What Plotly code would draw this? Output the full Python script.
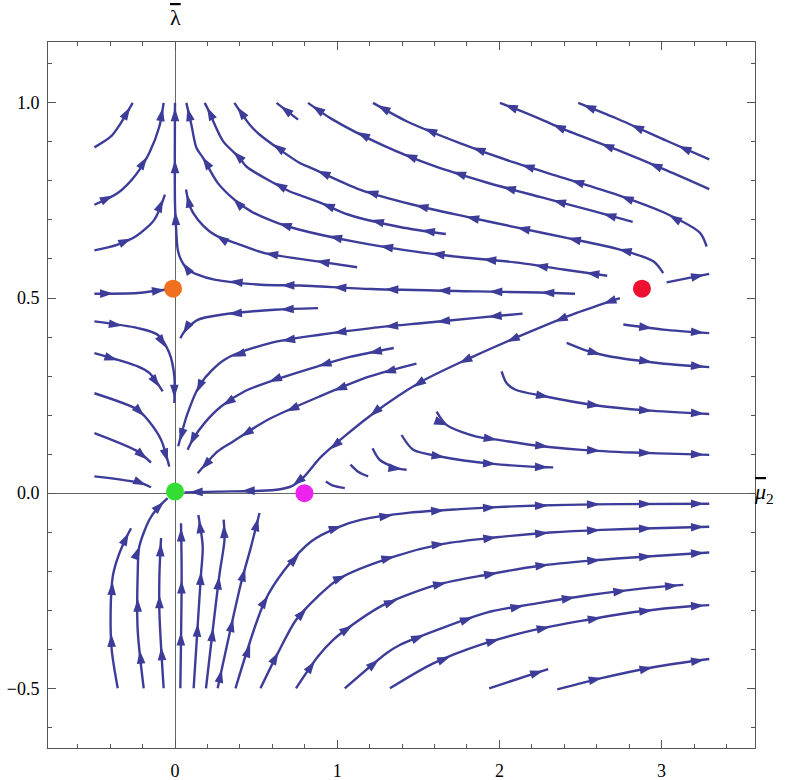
import numpy as np
import plotly.graph_objects as go

# streamlines, each listed in flow direction: (mu2 values, lambda values)
s01 = ([-0.497, -0.395, -0.333, -0.261], [0.886, 0.914, 0.949, 1.0])
s02 = ([-0.497, -0.353, -0.241, -0.158, -0.096, -0.07], [0.739, 0.769, 0.816, 0.872, 0.94, 1.0])
s03 = ([-0.497, -0.353, -0.241, -0.127, -0.062], [0.622, 0.637, 0.658, 0.701, 0.765])
s04 = ([-0.497, -0.23, -0.086, -0.03], [0.511, 0.513, 0.52, 0.523])
s05 = ([-0.497, -0.23, -0.107, -0.035, -0.004, -0.004], [0.44, 0.423, 0.406, 0.359, 0.299, 0.231])
s06 = ([-0.497, -0.23, -0.158, -0.076], [0.359, 0.325, 0.308, 0.261])
s07 = ([-0.497, -0.23, -0.168, -0.086, -0.035], [0.256, 0.214, 0.188, 0.137, 0.068])
s08 = ([-0.497, -0.23, -0.148], [0.154, 0.107, 0.078])
s09 = ([-0.497, -0.21, -0.148], [0.043, 0.026, 0.015])
s10 = ([2.466, 2.25, 1.859, 1.212, 0.769, 0.531, 0.243, 0.14, 0.078, 0.037, 0.017, 0.006, 0.0, 0.0],
       [0.511, 0.514, 0.517, 0.523, 0.532, 0.534, 0.547, 0.56, 0.573, 0.598, 0.624, 0.684, 0.74, 1.0])
s11 = ([0.882, 0.613, 0.284, 0.14, 0.058, 0.033], [0.474, 0.47, 0.457, 0.444, 0.414, 0.397])
s12 = ([2.143, 1.859, 1.53, 1.212, 0.893, 0.592, 0.305, 0.16, 0.078, 0.02],
       [0.46, 0.449, 0.436, 0.423, 0.406, 0.385, 0.342, 0.282, 0.205, 0.12])
s13 = ([1.349, 1.078, 0.88, 0.584, 0.43, 0.284, 0.183, 0.109, 0.078],
       [0.372, 0.349, 0.325, 0.286, 0.261, 0.222, 0.18, 0.137, 0.111])
s14 = ([1.489, 1.201, 0.893, 0.572, 0.356, 0.263, 0.14], [0.332, 0.299, 0.248, 0.188, 0.132, 0.107, 0.051])
s15 = ([2.743, 2.476, 2.168, 1.838, 1.52, 1.212, 0.903, 0.798, 0.72, 0.613, 0.263, 0.058],
       [0.5, 0.462, 0.41, 0.35, 0.286, 0.201, 0.094, 0.043, 0.018, 0.008, 0.004, 0.002])
s16 = ([3.031, 3.294], [0.54, 0.562])
s17 = ([3.294, 3.031, 2.723, 2.486], [0.855, 0.903, 0.96, 1.0])
s18 = ([3.294, 3.031, 2.723, 2.394, 2.25, 2.085, 2.003], [0.779, 0.827, 0.88, 0.933, 0.959, 0.987, 1.0])
s19 = ([3.278, 3.237, 3.031, 2.723, 2.394, 2.085, 1.756, 1.428, 1.221],
       [0.632, 0.667, 0.716, 0.765, 0.808, 0.848, 0.897, 0.953, 1.0])
s20 = ([2.822, 2.558, 2.25, 1.921, 1.592, 1.283, 0.965, 0.82], [0.695, 0.725, 0.759, 0.796, 0.839, 0.891, 0.959, 1.0])
s21 = ([0.759, 0.626], [0.957, 1.0])
s22 = ([3.01, 2.949, 2.743, 2.415, 2.126, 1.787, 1.469, 1.14, 0.831, 0.769, 0.521, 0.461, 0.366],
       [0.564, 0.594, 0.624, 0.654, 0.679, 0.709, 0.739, 0.778, 0.835, 0.846, 0.919, 0.944, 1.0])
s23 = ([1.67, 1.386, 1.067, 0.913, 0.759, 0.708, 0.44, 0.399, 0.296, 0.204, 0.183],
       [0.664, 0.682, 0.714, 0.741, 0.765, 0.773, 0.837, 0.859, 0.902, 0.983, 1.0])
s24 = ([2.665, 2.394, 2.126, 1.756, 1.428, 1.098, 0.769, 0.634, 0.469, 0.366, 0.263, 0.173, 0.132, 0.101, 0.07],
       [0.557, 0.573, 0.59, 0.605, 0.622, 0.645, 0.675, 0.692, 0.722, 0.752, 0.795, 0.859, 0.885, 0.944, 1.0])
s25 = ([1.123, 0.88, 0.552, 0.399, 0.263, 0.212, 0.14, 0.091, 0.068],
       [0.579, 0.594, 0.615, 0.637, 0.658, 0.671, 0.701, 0.735, 0.778])
s26 = ([2.014, 2.044, 2.1, 2.27, 2.579, 2.908, 3.294], [0.312, 0.282, 0.265, 0.249, 0.226, 0.212, 0.203])
s27 = ([2.764, 3.01, 3.294], [0.432, 0.419, 0.41])
s28 = ([2.415, 2.538, 2.661, 2.99, 3.294], [0.385, 0.365, 0.352, 0.333, 0.323])
s29 = ([1.613, 1.674, 1.859, 2.003, 2.188, 2.507, 2.825, 3.155, 3.294],
       [0.209, 0.175, 0.145, 0.136, 0.124, 0.111, 0.104, 0.1, 0.098])
s30 = ([1.397, 1.469, 1.633, 1.962, 2.25, 2.332], [0.149, 0.111, 0.094, 0.075, 0.067, 0.066])
s31 = ([1.218, 1.263, 1.386, 1.428], [0.115, 0.085, 0.062, 0.06])
s32 = ([1.082, 1.129, 1.191], [0.073, 0.055, 0.043])
s33 = ([0.93, 0.975, 1.047], [0.03, 0.019, 0.013])
s34 = ([-0.353, -0.39, -0.397, -0.384, -0.36, -0.316, -0.271], [-0.5, -0.402, -0.308, -0.214, -0.174, -0.127, -0.09])
s35 = ([-0.193, -0.23, -0.23, -0.22, -0.158, -0.107, -0.045], [-0.5, -0.351, -0.209, -0.137, -0.068, -0.038, -0.013])
s36 = ([-0.07, -0.096, -0.096, -0.086], [-0.5, -0.308, -0.209, -0.115])
s37 = ([0.033, 0.041, 0.037], [-0.5, -0.209, -0.077])
s38 = ([0.115, 0.16, 0.171, 0.144], [-0.5, -0.209, -0.137, -0.056])
s39 = ([0.191, 0.274, 0.305, 0.3], [-0.5, -0.209, -0.12, -0.068])
s40 = ([0.263, 0.407, 0.469, 0.521], [-0.5, -0.231, -0.137, -0.051])
s41 = ([0.373, 0.552, 0.675, 0.839, 1.016, 1.15, 1.448, 1.756, 2.085, 2.415, 2.723, 3.294],
       [-0.5, -0.278, -0.197, -0.124, -0.086, -0.068, -0.05, -0.041, -0.034, -0.03, -0.028, -0.027])
s42 = ([0.527, 0.634, 0.746, 0.88, 1.016, 1.345, 1.653, 1.983, 2.312, 2.63, 2.949, 3.294],
       [-0.5, -0.41, -0.325, -0.265, -0.218, -0.163, -0.13, -0.113, -0.101, -0.094, -0.09, -0.086])
s43 = ([0.746, 0.88, 0.975, 1.036, 1.283, 1.613, 1.921, 2.25, 2.558, 2.887, 3.294],
       [-0.5, -0.419, -0.376, -0.355, -0.287, -0.235, -0.209, -0.186, -0.173, -0.163, -0.152])
s44 = ([1.047, 1.304, 1.386, 1.613, 1.921, 2.25, 2.558, 2.887, 3.134],
       [-0.5, -0.41, -0.389, -0.351, -0.306, -0.281, -0.261, -0.244, -0.235])
s45 = ([1.325, 1.592, 1.9, 2.209, 2.538, 2.846, 3.196, 3.294], [-0.5, -0.436, -0.386, -0.351, -0.325, -0.304, -0.289, -0.287])
s46 = ([1.937, 2.209, 2.301], [-0.5, -0.463, -0.451])
s47 = ([2.357, 2.63, 2.949, 3.294], [-0.503, -0.474, -0.446, -0.425])

streams = [s01, s02, s03, s04, s05, s06, s07, s08, s09, s10, s11, s12, s13, s14, s15, s16,
           s17, s18, s19, s20, s21, s22, s23, s24, s25, s26, s27, s28, s29, s30, s31, s32,
           s33, s34, s35, s36, s37, s38, s39, s40, s41, s42, s43, s44, s45, s46, s47]

# fixed points
fp_x = [0.0, -0.012, 0.798, 2.879]
fp_y = [0.004, 0.524, 0.0, 0.524]
fp_color = ["#33dd33", "#f07020", "#ee22ee", "#ee1030"]

W, H = 800, 780
MARGIN = dict(l=48, r=45, t=42, b=32)
X_RANGE = [-0.783, 3.576]
Y_RANGE = [-0.653, 1.156]
KX = (W - MARGIN["l"] - MARGIN["r"]) / (X_RANGE[1] - X_RANGE[0])
KY = (H - MARGIN["t"] - MARGIN["b"]) / (Y_RANGE[1] - Y_RANGE[0])
LINE = "#3d3d99"
SERIF = "Times New Roman, Liberation Serif, DejaVu Serif, serif"
STEP = 52   # spacing of arrowheads along a streamline (screen px)
BACK = 5    # marker centre sits this far behind the arrow tip


def arrowheads(xs, ys):
    x, y = np.asarray(xs, float), np.asarray(ys, float)
    sx, sy = x * KX, y * KY
    seg = np.hypot(np.diff(sx), np.diff(sy))
    cum = np.concatenate([[0.0], np.cumsum(seg)])
    out_x, out_y, out_a = [], [], []
    s = cum[-1]
    while s > 22:
        c = s - BACK
        i = int(np.clip(np.searchsorted(cum, c) - 1, 0, len(seg) - 1))
        t = (c - cum[i]) / seg[i]
        out_x.append(x[i] + t * (x[i + 1] - x[i]))
        out_y.append(y[i] + t * (y[i + 1] - y[i]))
        out_a.append(np.degrees(np.arctan2(sx[i + 1] - sx[i], sy[i + 1] - sy[i])))
        s -= STEP
    return out_x, out_y, out_a


fig = go.Figure()

lx, ly = [], []
hx, hy, ha = [], [], []
for xs, ys in streams:
    lx += list(xs) + [None]
    ly += list(ys) + [None]
    a, b, c = arrowheads(xs, ys)
    hx += a
    hy += b
    ha += c

fig.add_trace(go.Scatter(x=lx, y=ly, mode="lines", line=dict(color=LINE, width=2.4, shape="spline", smoothing=0.8),
                         hoverinfo="skip", showlegend=False))
fig.add_trace(go.Scatter(x=hx, y=hy, mode="markers", hoverinfo="skip", showlegend=False,
                         marker=dict(symbol="arrow", size=14, color=LINE, angle=ha, line=dict(width=0))))
fig.add_trace(go.Scatter(x=fp_x, y=fp_y, mode="markers", showlegend=False,
                         marker=dict(size=18, color=fp_color, line=dict(width=0))))

axis_font = dict(family=SERIF, size=18, color="black")
fig.update_xaxes(range=X_RANGE, showgrid=False, zeroline=True, zerolinecolor="#666", zerolinewidth=1,
                 showline=True, linecolor="#555", linewidth=1, mirror="ticks", automargin=False,
                 ticks="inside", ticklen=8, tickcolor="#555", tickvals=[0, 1, 2, 3],
                 minor=dict(ticks="inside", ticklen=4, dtick=0.2, tick0=0, tickcolor="#555"),
                 tickfont=axis_font, ticklabelstandoff=6)
fig.update_yaxes(range=Y_RANGE, showgrid=False, zeroline=True, zerolinecolor="#666", zerolinewidth=1,
                 showline=True, linecolor="#555", linewidth=1, mirror="ticks", automargin=False,
                 ticks="inside", ticklen=8, tickcolor="#555", tickvals=[-0.5, 0, 0.5, 1.0], tickformat=".1f",
                 minor=dict(ticks="inside", ticklen=4, dtick=0.1, tick0=0, tickcolor="#555"),
                 tickfont=axis_font, ticklabelstandoff=4)

fig.add_annotation(x=0, y=1.055, xref="x", yref="paper", showarrow=False,
                   text="<span style='text-decoration:overline'>λ</span>",
                   font=dict(family=SERIF, size=22, color="black"))
fig.add_annotation(x=1.03, y=0, xref="paper", yref="y", showarrow=False,
                   text="<i><span style='text-decoration:overline'>μ</span></i><sub>2</sub>",
                   font=dict(family=SERIF, size=22, color="black"))

fig.update_layout(width=W, height=H, margin=MARGIN, plot_bgcolor="white", paper_bgcolor="white")
fig.write_html("out.html", config={"displayModeBar": False},
               post_script="document.body.style.margin='0';")
